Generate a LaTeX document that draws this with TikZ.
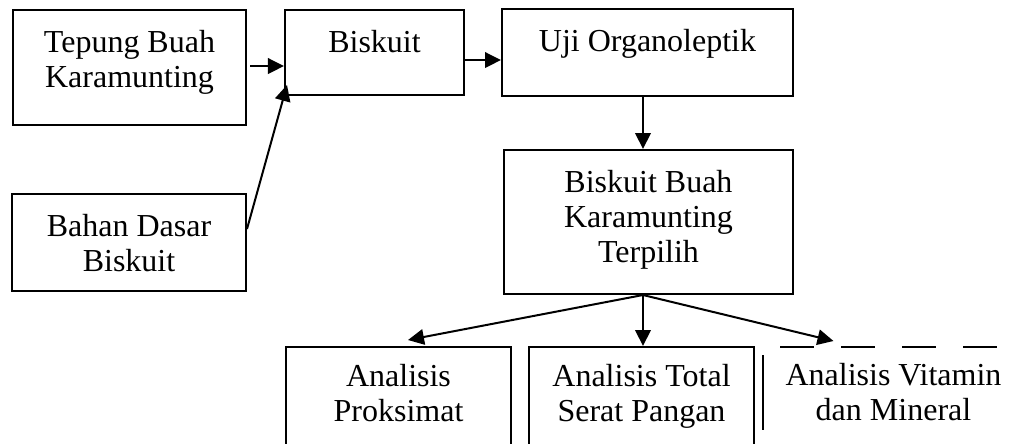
\documentclass[tikz,border=0pt]{standalone}
\usepackage{fontspec}
\setmainfont{Liberation Serif}
\usetikzlibrary{arrows.meta,calc}

\newlength{\px}
\setlength{\px}{0.4pt}
% box text: width, height, text (top aligned)
\newcommand{\kotak}[4][17.5]{\parbox[c][#3\px][t]{#2\px}{\centering\vspace*{#1\px}\strut #4}}

\tikzset{
	blok/.style={draw, line width=0.8pt, inner sep=0pt, anchor=north west},
	teks/.style={inner sep=0pt, anchor=north west},
	panah/.style={-{Triangle[length=6.4pt,width=6.2pt]}, line width=0.8pt},
	garis/.style={line width=0.8pt}
}

\begin{document}
\begin{tikzpicture}[x=0.4pt, y=-0.4pt, font=\fontsize{12.8}{14}\selectfont]
	\useasboundingbox (0,0) rectangle (1023,443);
	
	% Bahan
	\node[blok] (tepung) at (12,9)    {\kotak{233}{115}{Tepung Buah\\Karamunting}};
	\node[blok] (bahan)  at (11,193)  {\kotak{234}{97}{Bahan Dasar\\Biskuit}};
	
	% Proses
	\node[blok] (biskuit)  at (284,9)  {\kotak{179}{85}{Biskuit}};
	\node[blok] (uji)      at (501,8)  {\kotak{291}{87}{Uji Organoleptik}};
	\node[blok] (terpilih) at (503,149) {\kotak{289}{144}{Biskuit Buah\\Karamunting\\Terpilih}};
	
	% Analisis
	\node[blok] (proksimat) at (285,346) {\kotak[14.5]{225}{104}{Analisis\\Proksimat}};
	\node[blok] (serat)     at (528,346) {\kotak[14.5]{225}{104}{Analisis Total\\Serat Pangan}};
	\node[teks] (vitamin)   at (763,346) {\kotak[14.5]{260}{104}{Analisis Vitamin\\dan Mineral}};
	\draw[garis, dash pattern=on 13.6pt off 10.8pt] ($(vitamin.north west)+(17,1)$) -- ($(vitamin.north east)+(12,1)$);
	\draw[garis] ($(vitamin.north west)+(0,9)$) -- ($(vitamin.north west)+(0,84)$);
	
	% Panah
	\coordinate (pusat) at ($(terpilih.south)+(-5.5,0)$);
	\draw[panah] ($(tepung.east)+(3,-1.5)$) -- ($(tepung.east -| biskuit.west)+(0,-1.5)$);
	\draw[panah] ($(bahan.east)+(0,-13.5)$) -- ($(biskuit.south west)+(3,-11)$);
	\draw[panah] ($(biskuit.east)+(0,7.5)$) -- ($(biskuit.east -| uji.west)+(0,7.5)$);
	\draw[panah] (uji.south -| pusat) -- (terpilih.north -| pusat);
	\draw[panah] (pusat) -- ($(proksimat.north)+(9.5,-6)$);
	\draw[panah] (pusat) -- (serat.north -| pusat);
	\draw[panah] (pusat) -- ($(vitamin.north)+(-60,-5)$);
\end{tikzpicture}
\end{document}
